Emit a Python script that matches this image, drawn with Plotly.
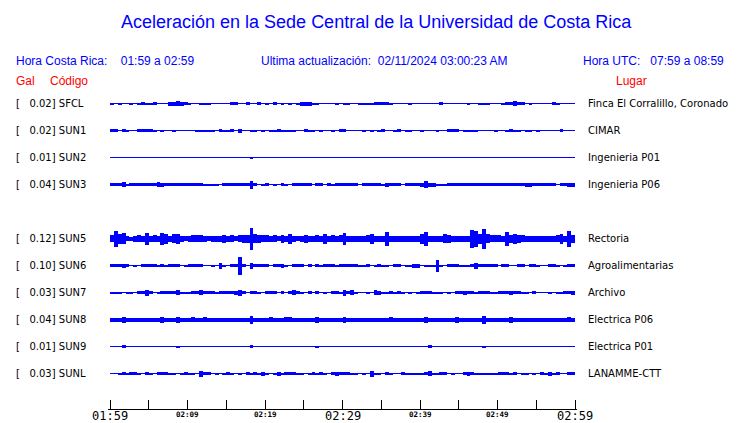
import plotly.graph_objects as go

# ---------------- data ----------------
codes = ["SFCL", "SUN1", "SUN2", "SUN3", "SUN5", "SUN6", "SUN7", "SUN8", "SUN9", "SUNL"]
rows = [0, 1, 2, 3, 5, 6, 7, 8, 9, 10]          # row slot of each station (slot 4 empty)
peaks = ["0.02", "0.02", "0.01", "0.04", "0.12", "0.10", "0.03", "0.04", "0.01", "0.03"]
places = ["Finca El Corralillo, Coronado", "CIMAR", "Ingenieria P01", "Ingenieria P06",
          "Rectoria", "Agroalimentarias", "Archivo", "Electrica P06", "Electrica P01",
          "LANAMME-CTT"]

# half-amplitude envelopes, units of 0.01 Gal, one value per 30-s window (01:59 -> 02:59)
env_sfcl = [1,0,1,0,0,1,0,1,1.5,1, 1,1.5,0,0,0,2,2,2.5,2,1.5,
            1,0,0,1,1,1,0,0,0,0, 0,1.5,1.5,0,0,1.5,0,0,1.5,0,
            1,0,1.5,0,1,0,1,0,1,2, 2,2,1,1,0,0,0,0,1,0,
            1,1,0,0,1,1,1,1,1.5,1.5, 1.5,1.5,1,0,0,0,0,1,0,0,
            0,0,0,0,0,1.5,0,0,0,0, 0,0,1,0,0,1,1,1,0,0,
            0,1,1.5,1.5,2.5,1.5,1.5,0,1,0, 0,0,0,0,1.5,1,0,0,0,0]
env_sun1 = [1.5,1.5,0,1.5,1,0,0,1.5,1.5,1.5, 1.5,1,0,1,0,0,1,0,0,0,
            0,0,1,1,1,1,1,0,1.5,1, 1,1.5,0,2,0,0,1,1,0,1,
            0,1,1,1.5,1,1,1,1,0,0, 1.5,1,1,0,1,0,0,1,0,1.5,
            1.5,0,0,0,0,1,0,1,0,1, 1.5,0,0,1,1.5,0,1,1,0,0,
            1,0,0,0,1,0,0,1.5,1.5,1.5, 0,1,1,1,1,0,0,0,0,1,
            0,0,1,1.5,1,1,0,1,1,0, 1,0,0,0,0,0,1.5,0,0,0]
env_sun2 = [0,0,0,0,0,0,0,0,0,0, 0,0,0,0,0,0,0,0,0,0,
            0,0,0,0,0,0,0,0,0,0, 0,0,0,0,0,0,1,0,0,0,
            0,0,0,0,0,0,0,0,0,0, 0,0,0,0,0,0,0,0,0,0,
            0,0,0,0,0,0,0,0,0,0, 0,0,0,0,0,0,0,0,0,0,
            0,0,0,0,0,0,0,0,0,0, 0,0,0,0,0,0,0,0,0,0,
            0,0,0,0,0,0,0,0,0,0, 0,0,0,0,0,0,0,0,0,0]
env_sun3 = [1.5,1.5,1.5,2.5,1,1.5,1.5,1.5,1.5,1.5, 1.5,1.5,2.5,2,1.5,1.5,1.5,1.5,1.5,1.5,
            1.5,1.5,1.5,1.5,1,1,1,1,0,1.5, 1.5,1.5,1.5,1.5,1.5,1.5,4,1.5,0,1,
            1.5,0,1,0,1.5,1,0,1.5,1.5,1.5, 1.5,1.5,0,1.5,1.5,0,1.5,1,1.5,1.5,
            1.5,1.5,1.5,1.5,0,1.5,1.5,1.5,1.5,1.5, 1,2,1.5,1.5,1.5,0,1.5,1.5,1.5,1.5,
            2,3.5,2,2,1,1,1,1.5,1.5,1.5, 1.5,1.5,1.5,1.5,1.5,1.5,1.5,1.5,1.5,1.5,
            1.5,1.5,1.5,1.5,1.5,1.5,1.5,2,2,1.5, 1.5,1.5,1.5,1.5,1.5,0,1.5,1.5,2,2]
env_sun5 = [3.5,8,5,5.5,2.5,2,3,3.5,3,6, 3,3.5,3,6,5,3,4.5,5,3,2.5,
            3,3.5,3.5,3.5,3,2.5,3,3,3,4, 3,3.5,2.5,3.5,4,4,11,4.5,4,3.5,
            3.5,3,3.5,2.5,4,3,5,3,2.5,3, 4,3,3,3.5,3,5,3,3.5,3,3.5,
            6,3,3,3,3,3,3.5,5,3,3, 3,7,3,3,3,3,3,3,3,3,
            5,7,3,3,3,3,4.5,4,3,3, 3,3,3,9,8,5,10,4.5,3.5,3.5,
            3.5,3,7,4,5,4,3.5,3,3,3, 3,3,3,3,3,3.5,5,3,8,4]
env_sun6 = [1.5,1.5,1.5,2,1.5,0,1,0,1.5,1.5, 1.5,1.5,1,1.5,1,1.5,1.5,1.5,0,1,
            1.5,1.5,1.5,1.5,0,0,1,0,3,1, 0,1.5,1.5,9,1.5,0,3,1.5,1.5,1.5,
            1.5,0,1.5,1.5,2,1,0,1.5,1.5,1.5, 0,1.5,0,1.5,1,1.5,1.5,1.5,1,1.5,
            1.5,1.5,1.5,1.5,1,1,1.5,0,1,1.5, 1,1,0,1.5,1.5,0,1,1,2,2,
            0,1,1,1,6,1,0,1.5,1.5,1.5, 1,1,1,1.5,3,1.5,1.5,1.5,1.5,1.5,
            0,1.5,1.5,0,0,1.5,1.5,0,1.5,1.5, 1,0,0,1.5,1.5,1,0,1,1.5,1.5]
env_sun7 = [1,1,1,0,1,1,0,1.5,1.5,3, 1.5,0,1,1.5,1.5,1.5,1.5,2.5,1,1,
            1,1.5,1.5,2.5,1.5,1.5,1.5,1,1.5,1.5, 1.5,1.5,2,3,1.5,0,1.5,1.5,1,0,
            1.5,1.5,1.5,0,1.5,0,1.5,2.5,1.5,1, 0,1.5,0,1.5,0,1,0,1.5,1.5,1,
            3,1.5,2.5,1,0,0,1,0,2.5,2, 1,1,1.5,1,1.5,1,0,1,0,1,
            1.5,1.5,1.5,1,1,1,0,1,0,1.5, 1.5,2,1.5,1.5,1,1.5,1.5,1.5,1,1,
            1.5,1.5,1.5,2,1.5,1.5,1,1,0,1.5, 0,0,0,1,0,1,1,1.5,1.5,2]
env_sun8 = [2,2,2,3,2,2,2,2,2,2, 2,2,2,3,2,2,2,3,2,2,
            2,2.5,2,2,2.5,2,2,2,2,2, 2,2,2,2,2,2,4,2,2,2,
            2,2.5,2,2,2,2.5,2.5,2,2,2, 2,2,2,3,2,2,2,2,2,2,
            3,2,2,2,2,2,2,2,2,2, 2,2,2.5,2,2,2,2,2,2,2,
            2,3,2,2,2,2,2,2,2,3, 2,2,2,2,2,2,4,2,2,2,
            2,2,2,3,2,2,2,2,2,2, 2,2,2,2,2,2,2,2,2.5,2]
env_sun9 = [0,0,0,1.5,0,0,0,0,0,0, 0,0,0,0,0,0,0,1,0,0,
            0,0,0,0,0,0,0,0,0,0, 0,0,0,0,0,0,1.5,0,0,0,
            0,0,0,0,0,0,0,0,0,0, 0,0,0,1,0,0,0,0,0,0,
            0,0,0,0,0,0,0,0,0,0, 0,0,0,0,0,0,0,0,0,0,
            0,0,1.5,0,0,0,0,0,0,0, 0,0,0,0,0,0,1,0,0,0,
            0,0,0,0,0,0,0,0,0,0, 0,0,0,0,0,0,0,0,0,0]
env_sunl = [0,0,1,1.5,1,1.5,1.5,1,0,1.5, 1,0,1.5,1.5,1.5,1,1,0,1,1.5,
            1,1,0,3,1.5,1.5,0,1,0,1, 1.5,1,0,1,0,1.5,1,1.5,1,2,
            1,0,1,2,1,1.5,1.5,1.5,1,1, 0,1,1.5,1,1.5,1,0,1.5,2,1.5,
            1.5,1.5,1,1,0,1,0,3,1,1, 0,1.5,1,0,0,1.5,1,1,1,1,
            1,1.5,2.5,1,1,1.5,1.5,0,1,0, 0,1.5,2,1.5,1,1,1,1,1,1,
            1.5,1.5,1.5,1,1.5,0,1,1,0,1, 0,1.5,1,2,1,1.5,0,0,1.5,1.5]
envelopes = [env_sfcl, env_sun1, env_sun2, env_sun3, env_sun5,
             env_sun6, env_sun7, env_sun8, env_sun9, env_sunl]

window_min = 0.5
span_min = 60
major_tick_min = [0, 30, 60]
major_tick_txt = ["01:59", "02:29", "02:59"]
minor_tick_min = [10, 20, 40, 50]
minor_tick_txt = ["02:09", "02:19", "02:39", "02:49"]

# ---------------- layout geometry ----------------
# the page body has an 8px default margin, so the figure is made 8px smaller
PAGE_OFF = 8
W, H = 740 - PAGE_OFF, 423 - PAGE_OFF
DATA_L, DATA_R = 110, 575          # window pixels of 01:59 and 02:59
EDGE = 2                           # plot area extends 2px past the time span
PLOT_L, PLOT_R = DATA_L - EDGE, DATA_R + EDGE
PLOT_T, PLOT_B = 90, 409
ML, MT = PLOT_L - PAGE_OFF, PLOT_T - PAGE_OFF
MR = 740 - PLOT_R
MB = 423 - PLOT_B
ROW_PX = 27
FIRST_ROW_PX = 103.5
PX_PER_UNIT = 1.0
BLUE = "#0000ff"
RED = "#ff0000"

min_per_px = span_min / (DATA_R - DATA_L)
x_range = [-EDGE * min_per_px, span_min + EDGE * min_per_px]

plot_w = PLOT_R - PLOT_L
plot_h = PLOT_B - PLOT_T
y_top = (PLOT_T - FIRST_ROW_PX) / ROW_PX
y_bot = (PLOT_B - FIRST_ROW_PX) / ROW_PX


def px_x(p):
    return (p - PLOT_L) / plot_w


def px_y(p):
    return (PLOT_B - p) / plot_h


fig = go.Figure()

for env, row in zip(envelopes, rows):
    n = len(env)
    centers = [window_min * (i + 0.5) for i in range(n)]
    half = [a * PX_PER_UNIT / ROW_PX for a in env]
    fig.add_trace(go.Scatter(x=[0, span_min], y=[row, row], mode="lines",
                             line=dict(color=BLUE, width=1), hoverinfo="skip",
                             showlegend=False))
    fig.add_trace(go.Bar(x=centers, y=[2 * h for h in half],
                         base=[row - h for h in half], width=window_min,
                         marker=dict(color=BLUE, line=dict(width=0)),
                         hoverinfo="skip", showlegend=False))

ann = []
# station labels
for code, row, pk, place in zip(codes, rows, peaks, places):
    ann.append(dict(x=px_x(14), y=row, xref="paper", yref="y", xanchor="left",
                    yanchor="middle", showarrow=False,
                    text="[\u00a0\u00a0\u00a0" + pk + "]\u00a0" + code,
                    font=dict(family="DejaVu Sans", size=10, color="black")))
    ann.append(dict(x=px_x(586), y=row, xref="paper", yref="y", xanchor="left",
                    yanchor="middle", showarrow=False, text=place,
                    font=dict(family="DejaVu Sans", size=10, color="black")))

# time tick labels
for m, t in zip(major_tick_min, major_tick_txt):
    ann.append(dict(x=m, y=px_y(415.5), xref="x", yref="paper", xanchor="center",
                    yanchor="middle", showarrow=False, text=t,
                    font=dict(family="DejaVu Sans Mono", size=12, color="black")))
for m, t in zip(minor_tick_min, minor_tick_txt):
    ann.append(dict(x=m, y=px_y(414), xref="x", yref="paper", xanchor="center",
                    yanchor="middle", showarrow=False, text="<b>" + t + "</b>",
                    font=dict(family="DejaVu Sans Mono", size=7.5, color="black")))

HF = "Liberation Sans"
ann.append(dict(x=px_x(376), y=px_y(22), xref="paper", yref="paper", xanchor="center",
                yanchor="middle", showarrow=False,
                text="Aceleración en la Sede Central de la Universidad de Costa Rica",
                font=dict(family=HF, size=18, color=BLUE)))
ann.append(dict(x=px_x(14), y=px_y(61), xref="paper", yref="paper", xanchor="left",
                yanchor="middle", showarrow=False,
                text="Hora Costa Rica:\u00a0\u00a0\u00a0\u00a001:59 a 02:59",
                font=dict(family=HF, size=12, color=BLUE)))
ann.append(dict(x=px_x(259), y=px_y(61), xref="paper", yref="paper", xanchor="left",
                yanchor="middle", showarrow=False,
                text="Ultima actualización:\u00a0\u00a002/11/2024 03:00:23 AM",
                font=dict(family=HF, size=12, color=BLUE)))
ann.append(dict(x=px_x(726), y=px_y(61), xref="paper", yref="paper", xanchor="right",
                yanchor="middle", showarrow=False,
                text="Hora UTC:\u00a0\u00a0\u00a007:59 a 08:59",
                font=dict(family=HF, size=12, color=BLUE)))
ann.append(dict(x=px_x(14), y=px_y(81), xref="paper", yref="paper", xanchor="left",
                yanchor="middle", showarrow=False, text="Gal",
                font=dict(family=HF, size=12, color=RED)))
ann.append(dict(x=px_x(48), y=px_y(81), xref="paper", yref="paper", xanchor="left",
                yanchor="middle", showarrow=False, text="Código",
                font=dict(family=HF, size=12, color=RED)))
ann.append(dict(x=px_x(614), y=px_y(81), xref="paper", yref="paper", xanchor="left",
                yanchor="middle", showarrow=False, text="Lugar",
                font=dict(family=HF, size=12, color=RED)))

fig.update_layout(
    width=W, height=H,
    margin=dict(l=ML, r=MR, t=MT, b=MB, pad=0),
    paper_bgcolor="white", plot_bgcolor="white",
    barmode="overlay", bargap=0,
    showlegend=False,
    annotations=ann,
    xaxis=dict(range=x_range, showgrid=False, zeroline=False,
               showline=True, linecolor="black", linewidth=1,
               ticks="inside", ticklen=9, tickwidth=1, tickcolor="black",
               tick0=0, dtick=5, showticklabels=False, fixedrange=True),
    yaxis=dict(range=[y_bot, y_top], visible=False, fixedrange=True),
)

fig.write_html("out.html")
